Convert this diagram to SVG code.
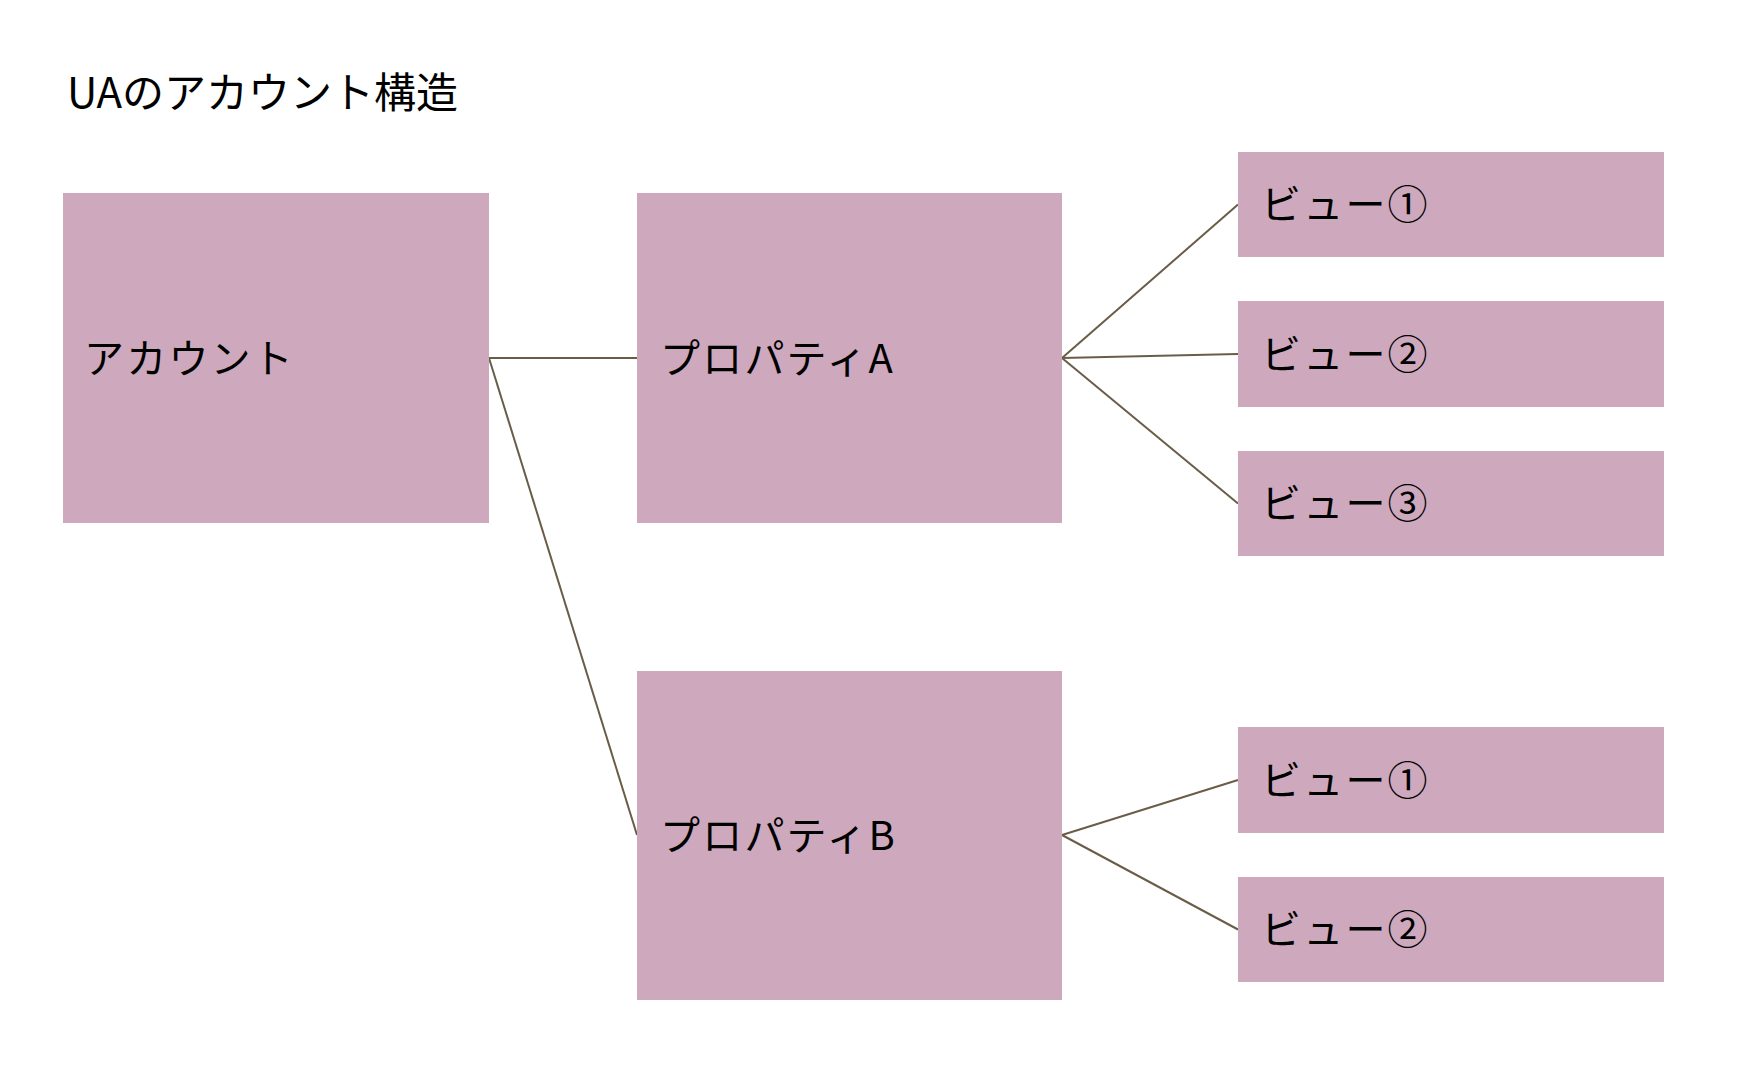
<svg xmlns="http://www.w3.org/2000/svg" width="1762" height="1076" viewBox="0 0 1762 1076">
<style>
.box{fill:#CEA8BD;}
.lbl{font-family:"Noto Sans CJK JP","Noto Sans",sans-serif;font-size:40px;letter-spacing:2.2px;fill:#000;}
.title{font-family:"Noto Sans CJK JP","Noto Sans",sans-serif;font-size:42px;fill:#000;}
.conn line{stroke:#6A5D48;stroke-width:2;fill:none;}
</style>
<rect width="1762" height="1076" fill="#ffffff"/>
<text class="title" x="67" y="108">UAのアカウント構造</text>
<g class="conn" id="connectors">
<line x1="489" y1="358" x2="637" y2="358"/>
<line x1="489" y1="358" x2="637" y2="835"/>
<line x1="1062" y1="358" x2="1238" y2="204.5"/>
<line x1="1062" y1="358" x2="1238" y2="354"/>
<line x1="1062" y1="358" x2="1238" y2="503.5"/>
<line x1="1062" y1="835" x2="1238" y2="780"/>
<line x1="1062" y1="835" x2="1238" y2="929.5"/>
</g>
<g id="account"><rect class="box" x="63" y="193" width="426" height="330"/><text class="lbl" x="84" y="373">アカウント</text></g>
<g id="propertyA"><rect class="box" x="637" y="193" width="425" height="330"/><text class="lbl" x="660" y="373">プロパティA</text></g>
<g id="propertyB"><rect class="box" x="637" y="671" width="425" height="329"/><text class="lbl" x="660" y="850">プロパティB</text></g>
<g id="viewA1"><rect class="box" x="1238" y="152" width="426" height="105"/><text class="lbl" x="1261" y="219">ビュー①</text></g>
<g id="viewA2"><rect class="box" x="1238" y="301" width="426" height="106"/><text class="lbl" x="1261" y="369">ビュー②</text></g>
<g id="viewA3"><rect class="box" x="1238" y="451" width="426" height="105"/><text class="lbl" x="1261" y="518">ビュー③</text></g>
<g id="viewB1"><rect class="box" x="1238" y="727" width="426" height="106"/><text class="lbl" x="1261" y="795">ビュー①</text></g>
<g id="viewB2"><rect class="box" x="1238" y="877" width="426" height="105"/><text class="lbl" x="1261" y="944">ビュー②</text></g>
</svg>
